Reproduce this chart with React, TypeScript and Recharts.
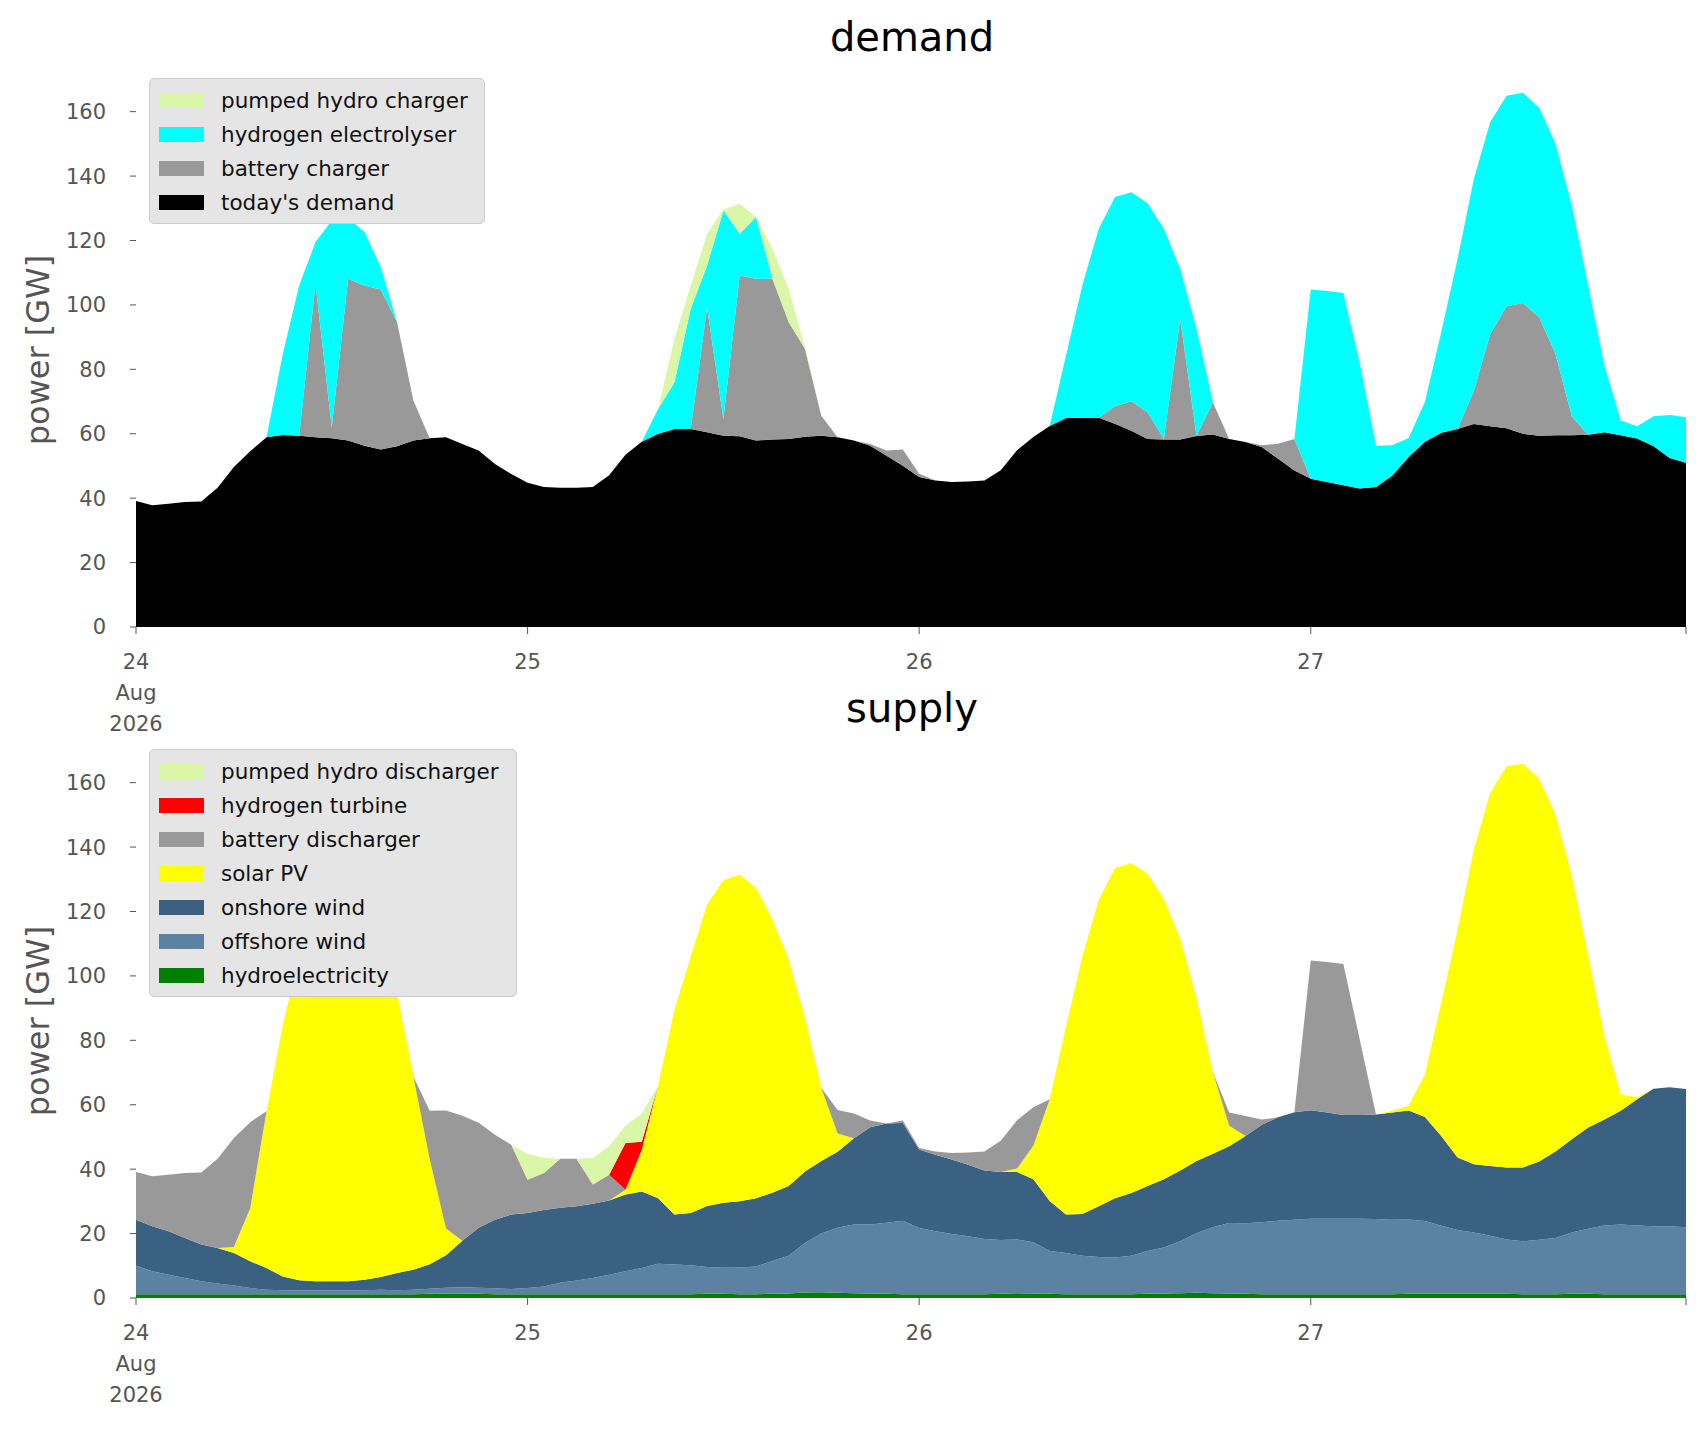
import React from 'react'
import { AreaChart, Area, XAxis, YAxis } from 'recharts'

// hourly, 24 Aug 00:00 .. 27 Aug 23:00 (GW)
const hours = Array.from({ length: 96 }, (_, i) => i)

const todaysDemand = [
  39.1, 37.8, 38.3, 38.8, 39.0, 43.2, 49.7, 54.6, 58.9, 59.6, 59.4, 58.9, 58.6, 57.9, 56.3, 55.1, 56.1, 57.9, 58.6, 58.9, 56.8, 54.8, 50.6, 47.5,
  44.8, 43.5, 43.2, 43.2, 43.5, 47.1, 53.5, 57.5, 60, 61.5, 61.5, 60.5, 59.4, 59.2, 57.9, 58.2, 58.4, 59.1, 59.4, 58.9, 57.9, 56.3, 53.2, 50.1,
  46.6, 45.5, 45, 45.2, 45.5, 48.7, 54.9, 59, 62.4, 64.9, 65, 65, 63.1, 60.9, 58.4, 58.2, 58.2, 59.3, 59.8, 58.4, 57.4, 55.9, 52.2, 48.6,
  46, 45, 44, 43, 43.5, 47, 52.8, 57.5, 60.3, 61.5, 63, 62.3, 61.7, 60, 59.4, 59.5, 59.5, 59.7, 60.5, 59.5, 58.5, 56.2, 52.5, 51,
]
const batteryCharger = [
  0, 0, 0, 0, 0, 0, 0, 0, 0, 0, 0, 47.7, 3.4, 50.2, 49.7, 49.7, 38.6, 12.4, 0, 0, 0, 0, 0, 0,
  0, 0, 0, 0, 0, 0, 0, 0, 0, 0, 0, 38.8, 5.2, 49.9, 50.2, 50, 36.3, 27.3, 6.2, 0, 0, 0.5, 1.6, 5,
  1, 0, 0, 0, 0, 0, 0, 0, 0, 0, 0, 0, 5.4, 9.2, 8.3, 0.2, 37.5, 0, 10, 0, 0, 0.5, 4.7, 9.8,
  0, 0, 0, 0, 0, 0, 0, 0, 0, 0, 10.4, 28.7, 37.9, 40.6, 36.8, 25.3, 5.9, 0, 0, 0, 0, 0, 0, 0,
]
const electrolyser = [
  0, 0, 0, 0, 0, 0, 0, 0, 0, 25.2, 46.6, 12.9, 64.2, 18.7, 16.6, 6.9, 0, 0, 0, 0, 0, 0, 0, 0,
  0, 0, 0, 0, 0, 0, 0, 0, 7.7, 14.5, 37.3, 12.9, 64.7, 13, 19.2, 0, 0, 0, 0, 0, 0, 0, 0, 0,
  0, 0, 0, 0, 0, 0, 0, 0, 0, 19.4, 41, 58.6, 65, 64.9, 64.9, 65.2, 15.5, 33.3, 0, 0, 0, 0, 0, 0,
  58.8, 59.3, 59.7, 39, 12.8, 9.4, 5.9, 12.4, 31.3, 52.8, 65.8, 65.8, 65.3, 65.3, 65, 65.2, 65.5, 46.3, 20.7, 4.6, 3.8, 9.2, 13.3, 14.1,
]
const pumpedCharger = [
  0, 0, 0, 0, 0, 0, 0, 0, 0, 0, 0, 0, 0, 0, 0, 0, 0, 0, 0, 0, 0, 0, 0, 0,
  0, 0, 0, 0, 0, 0, 0, 0, 0, 13.5, 7.2, 9.9, 0.3, 9.3, 0, 9.3, 10.3, 0.5, 0, 0, 0, 0, 0, 0,
  0, 0, 0, 0, 0, 0, 0, 0, 0, 0, 0, 0, 0, 0, 0, 0, 0, 0, 0, 0, 0, 0, 0, 0,
  0, 0, 0, 0, 0, 0, 0, 0, 0, 0, 0, 0, 0, 0, 0, 0, 0, 0, 0, 0, 0, 0, 0, 0,
]

const hydro = [
  1.2, 1.2, 1.2, 1.2, 1.2, 1.2, 1.2, 1.2, 1.2, 1.2, 1.2, 1.2, 1.2, 1.2, 1.2, 1.2, 1.2, 1.2, 1.3, 1.4, 1.4, 1.3, 1.2, 1.2,
  1.2, 1.2, 1.2, 1.2, 1.2, 1.2, 1.2, 1.2, 1.2, 1.2, 1.2, 1.3, 1.3, 1.2, 1.2, 1.3, 1.4, 1.7, 1.8, 1.6, 1.5, 1.4, 1.3, 1.2,
  1.2, 1.2, 1.2, 1.2, 1.2, 1.3, 1.5, 1.4, 1.3, 1.2, 1.2, 1.2, 1.2, 1.2, 1.3, 1.4, 1.5, 1.6, 1.5, 1.4, 1.3, 1.2, 1.2, 1.2,
  1.2, 1.2, 1.2, 1.2, 1.2, 1.2, 1.3, 1.3, 1.3, 1.3, 1.3, 1.3, 1.3, 1.2, 1.2, 1.2, 1.3, 1.3, 1.2, 1.2, 1.2, 1.2, 1.2, 1.2,
]
const offshoreWind = [
  8.8, 7.1, 6.0, 5.0, 4.0, 3.3, 2.7, 1.9, 1.4, 1.2, 1.1, 1.1, 1.1, 1.1, 1.2, 1.4, 1.2, 1.4, 1.6, 1.8, 1.9, 1.9, 1.8, 1.6,
  1.9, 2.4, 3.5, 4.2, 5.0, 6.0, 7.1, 8.1, 9.4, 9.2, 9.0, 8.3, 8.1, 8.3, 8.6, 10.2, 11.7, 15.4, 18.2, 20.2, 21.3, 21.4, 22.1, 22.8,
  20.5, 19.5, 18.7, 18, 17.1, 16.7, 16.7, 15.9, 13.3, 12.8, 11.9, 11.5, 11.4, 11.9, 13.3, 14.3, 16.1, 18.5, 20.5, 21.9, 21.9, 22.3, 22.8, 23.1,
  23.4, 23.4, 23.4, 23.4, 23.3, 23.1, 23.1, 22.6, 21.1, 19.8, 19, 18, 16.9, 16.4, 16.9, 17.4, 19, 20.2, 21.3, 21.6, 21.3, 21.1, 21.1, 20.8,
]
const onshoreWind = [
  14.3, 14, 13.5, 12.4, 11.4, 11, 10.1, 8.3, 6.7, 4.3, 3.2, 2.9, 2.9, 2.9, 3.3, 3.9, 5.4, 6.2, 7.6, 10.1, 14.5, 18.6, 21.3, 23.1,
  23.3, 23.7, 23.3, 23.1, 23.1, 23.1, 23.8, 23.8, 20.4, 15.5, 16.2, 19, 20.2, 20.5, 21.2, 21.2, 21.7, 22.2, 22.5, 23.6, 26.8, 30.2, 30.8, 30.3,
  24.4, 23.8, 23.1, 22.2, 21.3, 21.1, 20.9, 19.6, 15.5, 11.9, 13, 15.8, 18.4, 19.5, 20.2, 21.2, 22, 22.4, 22.8, 23.8, 27.1, 30.3, 32.1, 33.4,
  33.7, 33, 32.2, 32.2, 32.5, 33.3, 33.8, 32.3, 27.9, 22.5, 21.2, 21.7, 22.3, 22.9, 24.3, 26.9, 29, 31.4, 32.9, 35.3, 39.2, 42.7, 43.1, 42.9,
]
const solarPV = [
  0, 0, 0, 0, 0, 0, 1.8, 16.5, 48.7, 78.1, 100.5, 114.3, 121, 121.6, 116.9, 105.2, 86.9, 60, 32.6, 8.3, 0, 0, 0, 0,
  0, 0, 0, 0, 0, 0, 1.5, 12.9, 35, 63.6, 79.6, 93.6, 100.1, 101.4, 96.3, 84.8, 70.4, 47.6, 22.8, 5.7, 0, 0, 0, 0,
  0, 0, 0, 0, 0, 0, 1.1, 10.4, 31.6, 58.4, 79.9, 95.1, 102.5, 102.4, 96.9, 86.9, 71.9, 50.5, 25.3, 6.4, 0, 0, 0, 0,
  0, 0, 0, 0, 0, 0.5, 1.5, 13.3, 41.4, 70.8, 97.8, 115.9, 124.5, 125.4, 118.8, 104.5, 81.7, 53.2, 25.8, 5.1, 0.6, 0, 0, 0,
]
const batteryDischarger = [
  14.8, 15.5, 17.6, 20.2, 22.4, 27.7, 33.9, 26.7, 0, 0, 0, 0, 0, 0, 0, 0, 0, 0, 15, 36.6, 38.8, 32.6, 26.4, 21.7,
  10.3, 11.5, 15.2, 14.7, 5.9, 8, 0, 0, 0, 0, 0, 0, 0, 0, 0, 0, 0, 0, 0, 7.3, 7.7, 2.1, 0, 0.8,
  0.5, 1, 2, 3.8, 5.9, 9.7, 15, 11.9, 0, 0, 0, 0, 0, 0, 0, 0, 0, 0, 0, 4.1, 6.2, 1.6, 0, 0,
  46.5, 46.7, 46.9, 23.5, 0, 0, 0, 0, 0, 0, 0, 0, 0, 0, 0, 0, 0, 0, 0, 0, 0, 0, 0, 0,
]
const hydrogenTurbine = [
  0, 0, 0, 0, 0, 0, 0, 0, 0, 0, 0, 0, 0, 0, 0, 0, 0, 0, 0, 0, 0, 0, 0, 0,
  0, 0, 0, 0, 0, 0, 14.5, 2.5, 0, 0, 0, 0, 0, 0, 0, 0, 0, 0, 0, 0, 0, 0, 0, 0,
  0, 0, 0, 0, 0, 0, 0, 0, 0, 0, 0, 0, 0, 0, 0, 0, 0, 0, 0, 0, 0, 0, 0, 0,
  0, 0, 0, 0, 0, 0, 0, 0, 0, 0, 0, 0, 0, 0, 0, 0, 0, 0, 0, 0, 0, 0, 0, 0,
]
const pumpedDischarger = [
  0, 0, 0, 0, 0, 0, 0, 0, 0, 0, 0, 0, 0, 0, 0, 0, 0, 0, 0, 0, 0, 0, 0, 0,
  8.1, 4.7, 0, 0, 8.3, 8.8, 5.4, 8.8, 0, 0, 0, 0, 0, 0, 0, 0, 0, 0, 0, 0, 0, 0, 0, 0,
  0, 0, 0, 0, 0, 0, 0, 0, 0, 0, 0, 0, 0, 0, 0, 0, 0, 0, 0, 0, 0, 0, 0, 0,
  0, 0, 0, 0, 0, 0, 0, 0, 0, 0, 0, 0, 0, 0, 0, 0, 0, 0, 0, 0, 0, 0, 0, 0,
]

const xTicks = [0, 24, 48, 72, 95]
const xTickLabels: Record<number, string[]> = { 0: ['24', 'Aug', '2026'], 24: ['25'], 48: ['26'], 72: ['27'], 95: [] }
const yTicks = [0, 20, 40, 60, 80, 100, 120, 140, 160]

const demandSeries = [
  { key: 'demand', name: "today's demand", color: '#000000', values: todaysDemand },
  { key: 'battery', name: 'battery charger', color: '#999999', values: batteryCharger },
  { key: 'h2', name: 'hydrogen electrolyser', color: '#00ffff', values: electrolyser },
  { key: 'pumped', name: 'pumped hydro charger', color: '#d9f7a6', values: pumpedCharger },
]
const supplySeries = [
  { key: 'hydro', name: 'hydroelectricity', color: '#008000', values: hydro },
  { key: 'offshore', name: 'offshore wind', color: '#5b82a3', values: offshoreWind },
  { key: 'onshore', name: 'onshore wind', color: '#3a6182', values: onshoreWind },
  { key: 'solar', name: 'solar PV', color: '#ffff00', values: solarPV },
  { key: 'battery', name: 'battery discharger', color: '#999999', values: batteryDischarger },
  { key: 'h2', name: 'hydrogen turbine', color: '#ff0000', values: hydrogenTurbine },
  { key: 'pumped', name: 'pumped hydro discharger', color: '#d9f7a6', values: pumpedDischarger },
]

const FONT = '"DejaVu Sans", sans-serif'

const XTick = (props: any) => {
  const { x, y, payload } = props
  const lines = xTickLabels[payload.value] || []
  return (
    <g>
      {lines.map((l, i) => (
        <text key={i} x={x} y={y + 33 + i * 31} textAnchor="middle" fill="#555" fontSize={21} fontFamily={FONT}>
          {l}
        </text>
      ))}
    </g>
  )
}

function Panel({ series, title, top, legendWidth }: any) {
  const data = hours.map((h, i) => {
    const row: any = { h }
    series.forEach((s: any) => (row[s.key] = s.values[i]))
    return row
  })
  const legendItems = [...series].reverse()
  return (
    <div style={{ position: 'absolute', left: 0, top, width: 1706, height: 740 }}>
      <div style={{ position: 'absolute', left: 0, width: 1824, top: 14, textAlign: 'center', fontFamily: FONT, fontSize: 40, color: '#000' }}>
        {title}
      </div>
      <div style={{ position: 'absolute', left: 38, top: 350, fontFamily: FONT, fontSize: 32, color: '#555', transform: 'translate(-50%, -50%) rotate(-90deg)', whiteSpace: 'nowrap' }}>
        power [GW]
      </div>
      <AreaChart width={1706} height={740} data={data} margin={{ top: 73, right: 20, left: 76, bottom: 0 }} style={{ position: 'absolute', left: 0, top: 0 }}>
        <XAxis dataKey="h" type="number" domain={[0, 95]} ticks={xTicks} tick={<XTick />} tickSize={7} axisLine={false} tickLine={{ stroke: '#555' }} height={113} interval={0} />
        <YAxis domain={[0, 172]} ticks={yTicks} width={60} tickSize={6} tickMargin={24} axisLine={false} tickLine={{ stroke: '#555' }} tick={{ fill: '#555', fontSize: 21, fontFamily: FONT }} allowDataOverflow />
        {series.map((s: any) => (
          <Area key={s.key} dataKey={s.key} stackId="1" type="linear" stroke="none" fill={s.color} fillOpacity={1} isAnimationActive={false} dot={false} activeDot={false} />
        ))}
      </AreaChart>
      <div style={{ position: 'absolute', left: 149, top: 78, width: legendWidth, background: '#e5e5e5', border: '1px solid #cccccc', borderRadius: 5, padding: '4px 0', fontFamily: FONT, fontSize: 21.5, color: '#111' }}>
        {legendItems.map((s: any) => (
          <div key={s.key} style={{ display: 'flex', alignItems: 'center', height: 34 }}>
            <div style={{ width: 45, height: 15, background: s.color, marginLeft: 9, marginRight: 17 }} />
            <span>{s.name}</span>
          </div>
        ))}
      </div>
    </div>
  )
}

export default function App() {
  return (
    <div style={{ position: 'absolute', left: 0, top: 0, width: 1706, height: 1431, background: '#fff' }}>
      <Panel series={supplySeries} title="supply" top={671} legendWidth={366} />
      <Panel series={demandSeries} title="demand" top={0} legendWidth={334} />
    </div>
  )
}
